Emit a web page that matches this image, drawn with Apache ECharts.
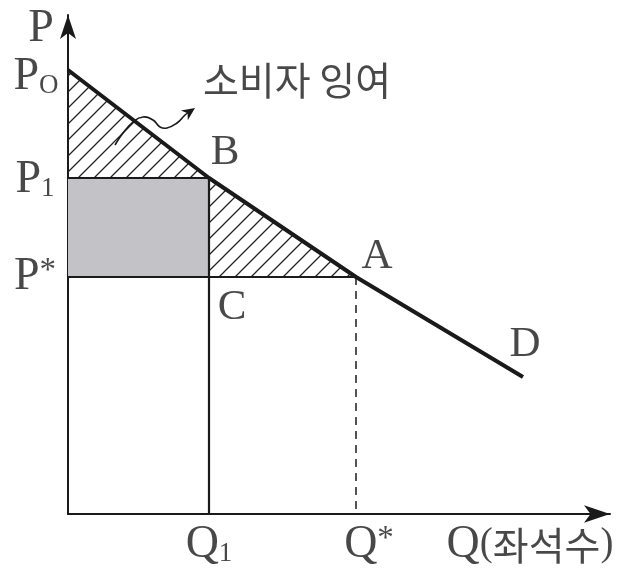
<!DOCTYPE html>
<html>
<head>
<meta charset="utf-8">
<script src="https://cdn.jsdelivr.net/npm/echarts@6/dist/echarts.min.js"></script>
<style>
html, body { margin: 0; padding: 0; background: #fff; }
#main { width: 619px; height: 575px; }
</style>
</head>
<body>
<div id="main"></div>
<script>
// 축 범위 (원점 기준 단위)
var xMax = 542, yMax = 499;
// 수요곡선 D
var demandQ = [0, 141, 288, 455];
var demandP = [444, 336, 237, 137];
// 가격, 수량
var P0 = 444, P1 = 336, PStar = 237;
var Q1 = 141, QStar = 288;
// 소비자 잉여 화살표 (물결선)
var waveQ = [47, 55, 65, 75, 85, 92, 99, 109, 117, 127];
var waveP = [369, 381, 392, 397, 394, 387, 386, 391, 399, 406];

var chart = echarts.init(document.getElementById('main'));

// 빗금 패턴
var hatch = document.createElement('canvas');
hatch.width = 16; hatch.height = 16;
var ctx = hatch.getContext('2d');
ctx.strokeStyle = '#222';
ctx.lineWidth = 1.3;
ctx.beginPath();
ctx.moveTo(-2, 18); ctx.lineTo(18, -2);
ctx.moveTo(-6, 6); ctx.lineTo(6, -6);
ctx.moveTo(10, 22); ctx.lineTo(22, 10);
ctx.stroke();

function zip(a, b) {
  return a.map(function (v, i) { return [v, b[i]]; });
}

function polySeries(points, fill, z) {
  return {
    type: 'custom',
    z: z,
    silent: true,
    data: [[0, 0]],
    renderItem: function (params, api) {
      return {
        type: 'polygon',
        shape: { points: points.map(function (p) { return api.coord(p); }) },
        style: { fill: fill, stroke: null }
      };
    }
  };
}

function lineSeries(data, width, type, z) {
  return {
    type: 'line',
    z: z,
    silent: true,
    symbol: 'none',
    data: data,
    lineStyle: { color: '#1a1a1a', width: width, type: type || 'solid' }
  };
}

var serif = 'Liberation Serif, Times New Roman, serif';
var rich = {
  m: { fontFamily: serif, fontSize: 46, lineHeight: 44, color: '#1a1a1a' },
  l: { fontFamily: serif, fontSize: 43, lineHeight: 44, color: '#1a1a1a' },
  s: { fontFamily: serif, fontSize: 27, lineHeight: 30, verticalAlign: 'bottom', color: '#1a1a1a' },
  a: { fontFamily: serif, fontSize: 33, lineHeight: 30, verticalAlign: 'top', color: '#1a1a1a' },
  p: { fontFamily: serif, fontSize: 39, lineHeight: 44, color: '#1a1a1a' },
  k: { fontFamily: 'Noto Sans CJK KR', fontSize: 39, lineHeight: 44, color: '#1a1a1a' }
};

var labels = [
  { value: [0, yMax], text: '{m|P}', offset: [-27, 14] },
  { value: [0, P0], text: '{m|P}{s|O}', offset: [-32, 7] },
  { value: [0, P1], text: '{m|P}{s|1}', offset: [-33, 2] },
  { value: [0, PStar], text: '{m|P}{a|*}', offset: [-33, 0] },
  { value: [Q1, P1], text: '{l|B}', offset: [16, -25] },
  { value: [QStar, PStar], text: '{l|A}', offset: [21, -20] },
  { value: [Q1, PStar], text: '{l|C}', offset: [23, 31] },
  { value: [demandQ[3], demandP[3]], text: '{l|D}', offset: [2, -32] },
  { value: [Q1, 0], text: '{m|Q}{s|1}', offset: [0, 31] },
  { value: [QStar, 0], text: '{m|Q}{a|*}', offset: [13, 31] },
  { value: [xMax, 0], text: '{m|Q}{p|(}{k|좌석수}{p|)}', offset: [-80, 31] },
  { value: [waveQ[9], waveP[9]], text: '{k|소비자 잉여}', offset: [102, -28] }
];

var option = {
  animation: false,
  grid: { left: 68, right: 9, top: 15, bottom: 61 },
  xAxis: {
    type: 'value', min: 0, max: xMax,
    axisLine: { lineStyle: { color: '#1a1a1a', width: 2 }, symbol: ['none', 'arrow'], symbolSize: [13, 26] },
    axisTick: { show: false }, axisLabel: { show: false }, splitLine: { show: false }
  },
  yAxis: {
    type: 'value', min: 0, max: yMax,
    axisLine: { lineStyle: { color: '#1a1a1a', width: 2 }, symbol: ['none', 'arrow'], symbolSize: [12, 24] },
    axisTick: { show: false }, axisLabel: { show: false }, splitLine: { show: false }
  },
  series: [
    // 회색 사각형
    polySeries([[0, PStar], [Q1, PStar], [Q1, P1], [0, P1]], '#c3c3c7', 1),
    // 빗금 삼각형
    polySeries([[0, P0], [Q1, P1], [0, P1]], { image: hatch, repeat: 'repeat' }, 1),
    polySeries([[Q1, P1], [QStar, PStar], [Q1, PStar]], { image: hatch, repeat: 'repeat' }, 1),
    lineSeries([[0, P1], [Q1, P1]], 2.2, 'solid', 3),
    lineSeries([[Q1, P1], [Q1, 0]], 2.2, 'solid', 3),
    lineSeries([[0, PStar], [QStar, PStar]], 2.2, 'solid', 3),
    lineSeries([[QStar, PStar], [QStar, 0]], 1.5, [8, 6], 3),
    lineSeries(zip(demandQ, demandP), 4, 'solid', 4),
    // 물결 화살표
    {
      type: 'custom',
      z: 5,
      silent: true,
      data: [[0, 0]],
      renderItem: function (params, api) {
        var pts = zip(waveQ, waveP).map(function (p) { return api.coord(p); });
        var n = pts.length;
        var tip = pts[n - 1], prev = pts[n - 2];
        var dx = tip[0] - prev[0], dy = tip[1] - prev[1];
        var len = Math.sqrt(dx * dx + dy * dy);
        var ux = dx / len, uy = dy / len;
        var bx = tip[0] - ux * 13, by = tip[1] - uy * 13;
        var hx = tip[0] - ux * 9, hy = tip[1] - uy * 9;
        var body = pts.slice(0, n - 1).concat([[hx, hy]]);
        return {
          type: 'group',
          children: [
            {
              type: 'polyline',
              shape: { points: body, smooth: 0.5 },
              style: { stroke: '#1a1a1a', lineWidth: 1.6, fill: null }
            },
            {
              type: 'polygon',
              shape: { points: [tip, [bx - uy * 6, by + ux * 6], [hx, hy], [bx + uy * 6, by - ux * 6]] },
              style: { fill: '#1a1a1a' }
            }
          ]
        };
      }
    },
    // 라벨
    {
      type: 'scatter',
      z: 6,
      silent: true,
      symbolSize: 1,
      itemStyle: { color: 'transparent' },
      data: labels.map(function (d) {
        return {
          value: d.value,
          label: { show: true, position: 'inside', formatter: d.text, offset: d.offset, rich: rich }
        };
      })
    }
  ]
};

chart.setOption(option);
</script>
</body>
</html>
